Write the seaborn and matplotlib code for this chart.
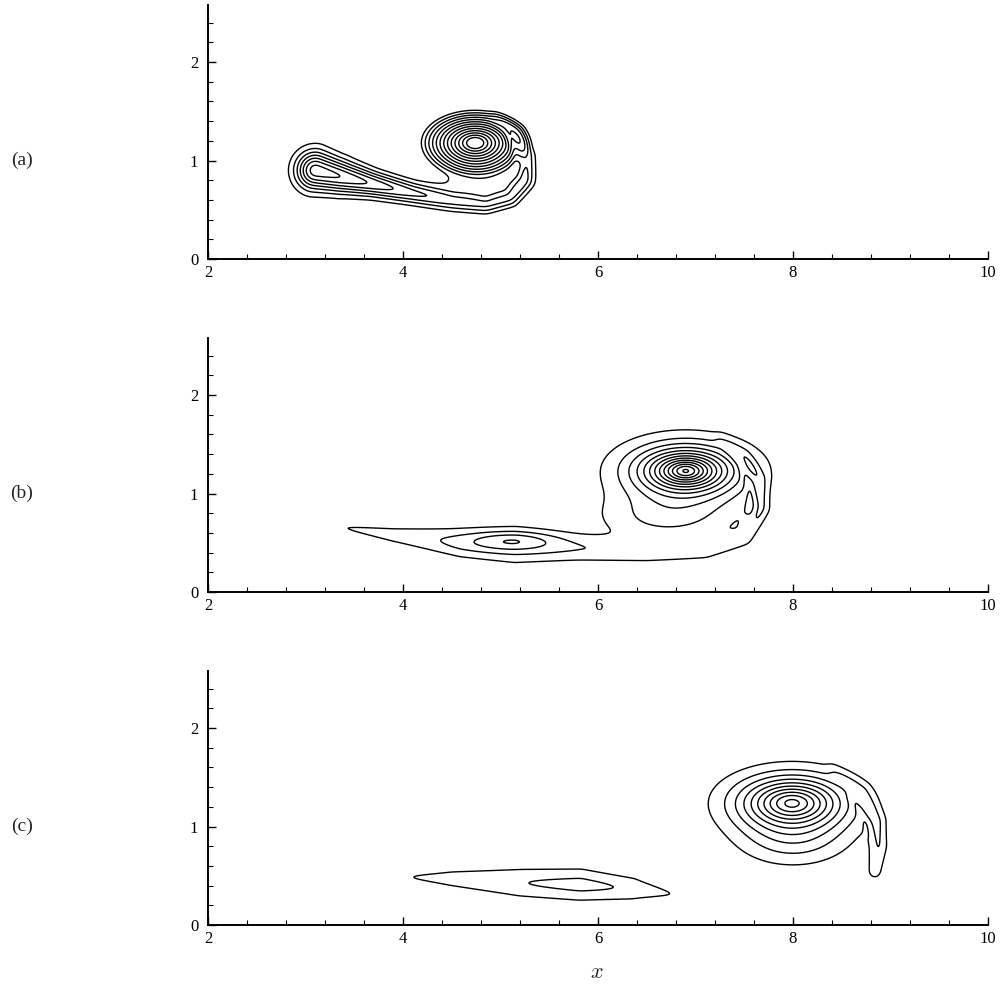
import numpy as np
import matplotlib
matplotlib.use("Agg")
import matplotlib.pyplot as plt
from matplotlib.ticker import MultipleLocator
import seaborn as sns

# ---- panel labels / axis ----
panel_labels = ["(a)", "(b)", "(c)"]
x_ticks = [2, 4, 6, 8, 10]
y_ticks = [0, 1, 2]
levels = [0.1, 0.2, 0.3, 0.4, 0.5, 0.6, 0.7, 0.8, 0.9, 1.0, 1.1, 1.2, 1.3]

# ---- vortex cores and lower envelopes: x, y, sx, sy, peak, profile exponent ----
# exponent 0 means a linear (conical) profile
core_a = [4.74, 1.18, 0.59, 0.35, 1.55, 0]
env_a = [4.82, 0.82, 0.45, 0.20, 0.18, 2.0]
core_b = [6.90, 1.23, 0.42, 0.20, 1.40, 1.33]
env_b = [6.70, 0.75, 0.70, 0.25, 0.20, 2.0]
core_c = [7.99, 1.24, 0.50, 0.245, 1.05, 1.59]
env_c = [8.00, 0.84, 0.55, 0.26, 0.19, 2.0]
blob_b = [5.12, 0.52, 0.45, 0.09, 0.22, 2.0]

# ---- shear layer: tail running under the vortex and up its right side ----
tail_a_x = [3.10, 3.35, 3.70, 4.10, 4.50, 4.85, 5.10, 5.25, 5.28, 5.18, 4.95]
tail_a_y = [0.90, 0.84, 0.76, 0.67, 0.59, 0.55, 0.62, 0.80, 1.05, 1.30, 1.45]
tail_a_amp = [0.78, 0.72, 0.60, 0.45, 0.34, 0.32, 0.31, 0.30, 0.26, 0.18, 0.08]
tail_a_w = [0.19, 0.16, 0.12, 0.10, 0.09, 0.08, 0.08, 0.08, 0.07, 0.06, 0.05]

tail_b_x = [3.35, 3.90, 4.60, 5.15, 5.80, 6.50, 7.10, 7.50, 7.68, 7.66, 7.50, 7.25]
tail_b_y = [0.66, 0.58, 0.50, 0.47, 0.44, 0.40, 0.42, 0.55, 0.85, 1.15, 1.40, 1.55]
tail_b_amp = [0.12, 0.15, 0.21, 0.22, 0.19, 0.17, 0.16, 0.17, 0.18, 0.16, 0.11, 0.06]
tail_b_w = [0.04, 0.10, 0.16, 0.19, 0.14, 0.10, 0.09, 0.08, 0.07, 0.06, 0.05, 0.05]

tail_c_x = [4.00, 4.50, 5.20, 5.82, 6.35, 6.80]
tail_c_y = [0.49, 0.47, 0.43, 0.41, 0.37, 0.31]
tail_c_amp = [0.12, 0.15, 0.20, 0.235, 0.19, 0.11]
tail_c_w = [0.03, 0.11, 0.16, 0.17, 0.13, 0.04]

arm_c_x = [8.40, 8.70, 8.86, 8.88, 8.84]
arm_c_y = [1.58, 1.35, 1.05, 0.80, 0.54]
arm_c_amp = [0.06, 0.14, 0.18, 0.19, 0.16]
arm_c_w = [0.05, 0.07, 0.08, 0.085, 0.08]

# ---- entrainment slits (subtracted) ----
slit_a_x = [4.92, 5.06, 5.15, 5.14]
slit_a_y = [1.40, 1.30, 1.10, 0.90]
slit_a_amp = [0.05, 0.15, 0.15, 0.05]
slit_a_w = [0.03, 0.03, 0.03, 0.03]

slit_b_x = [7.30, 7.45, 7.55, 7.58]
slit_b_y = [1.43, 1.32, 1.08, 0.70]
slit_b_amp = [0.04, 0.12, 0.12, 0.06]
slit_b_w = [0.03, 0.03, 0.03, 0.03]

slit_c_x = [8.60, 8.68, 8.74, 8.78]
slit_c_y = [1.30, 1.18, 1.05, 0.90]
slit_c_amp = [0.08, 0.12, 0.10, 0.04]
slit_c_w = [0.025, 0.025, 0.025, 0.025]


def blob(X, Y, p):
    cx, cy, sx, sy, amp, e = p
    r = np.sqrt(((X - cx) / sx) ** 2 + ((Y - cy) / sy) ** 2)
    if e == 0:
        return amp * np.clip(1 - r, 0, None)
    return amp * np.exp(-r ** e)


def ridge(X, Y, xs, ys, amps, widths):
    """Gaussian ridge along a polyline, amplitude/width varying along it."""
    out = np.zeros_like(X)
    for i in range(len(xs) - 1):
        dx, dy = xs[i + 1] - xs[i], ys[i + 1] - ys[i]
        t = ((X - xs[i]) * dx + (Y - ys[i]) * dy) / (dx * dx + dy * dy)
        t = np.clip(t, 0, 1)
        d2 = (X - xs[i] - t * dx) ** 2 + (Y - ys[i] - t * dy) ** 2
        a = amps[i] + t * (amps[i + 1] - amps[i])
        w = widths[i] + t * (widths[i + 1] - widths[i])
        out = np.maximum(out, a * np.exp(-d2 / w ** 2))
    return out


def smooth(F, n=4):
    k = np.exp(-0.5 * (np.arange(-4 * n, 4 * n + 1) / n) ** 2)
    k /= k.sum()
    F = np.apply_along_axis(lambda v: np.convolve(v, k, mode="same"), 0, F)
    return np.apply_along_axis(lambda v: np.convolve(v, k, mode="same"), 1, F)


gx = np.linspace(2, 10, 1200)
gy = np.linspace(0, 2.6, 400)
X, Y = np.meshgrid(gx, gy)

field_a = (blob(X, Y, core_a) + blob(X, Y, env_a)
           + ridge(X, Y, tail_a_x, tail_a_y, tail_a_amp, tail_a_w)
           - ridge(X, Y, slit_a_x, slit_a_y, slit_a_amp, slit_a_w))
field_b = (blob(X, Y, core_b) + blob(X, Y, env_b) + blob(X, Y, blob_b)
           + ridge(X, Y, tail_b_x, tail_b_y, tail_b_amp, tail_b_w)
           - ridge(X, Y, slit_b_x, slit_b_y, slit_b_amp, slit_b_w))
field_c = (blob(X, Y, core_c) + blob(X, Y, env_c)
           + ridge(X, Y, tail_c_x, tail_c_y, tail_c_amp, tail_c_w)
           + ridge(X, Y, arm_c_x, arm_c_y, arm_c_amp, arm_c_w)
           - ridge(X, Y, slit_c_x, slit_c_y, slit_c_amp, slit_c_w))
fields = [smooth(f) for f in (field_a, field_b, field_c)]

sns.set_theme(style="ticks")
plt.rcParams["font.family"] = ["Liberation Serif", "DejaVu Serif"]
plt.rcParams["mathtext.fontset"] = "cm"

fig = plt.figure(figsize=(10.08, 9.84), dpi=100)
bottoms = [1 - 259 / 984, 1 - 592 / 984, 1 - 925 / 984]
label_y = [1 - 160 / 984, 1 - 493 / 984, 1 - 826 / 984]

for i, fld in enumerate(fields):
    ax = fig.add_axes([208 / 1008, bottoms[i], 780 / 1008, 254 / 984])
    ax.contour(X, Y, fld, levels=levels, colors="black", linewidths=1.0)
    ax.set_xlim(2, 10)
    ax.set_ylim(0, 2.58)
    ax.set_xticks(x_ticks)
    ax.set_yticks(y_ticks)
    ax.xaxis.set_minor_locator(MultipleLocator(0.4))
    ax.yaxis.set_minor_locator(MultipleLocator(0.2))
    ax.tick_params(which="both", direction="in", colors="black", labelsize=12)
    ax.tick_params(which="major", length=6, width=1.0)
    ax.tick_params(which="minor", length=3.5, width=0.8)
    ax.tick_params(axis="y", pad=7)
    ax.tick_params(axis="x", pad=4)
    for s in ["top", "right"]:
        ax.spines[s].set_visible(False)
    for s in ["left", "bottom"]:
        ax.spines[s].set_linewidth(1.4)
        ax.spines[s].set_color("black")
    ax.set_facecolor("white")
    fig.text(22 / 1008, label_y[i], panel_labels[i], ha="center", va="center", fontsize=14)

fig.text(597 / 1008, 1 - 974 / 984, "$x$", ha="center", va="center", fontsize=16)
fig.savefig("out.png", dpi=100, facecolor="white")
